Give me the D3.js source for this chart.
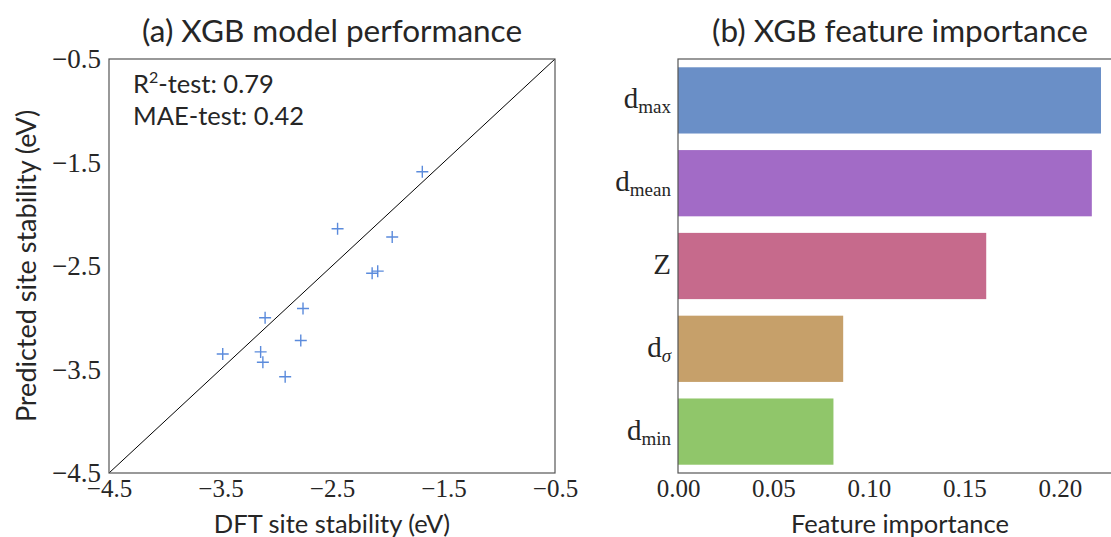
<!DOCTYPE html>
<html>
<head>
<meta charset="utf-8">
<script src="https://cdn.jsdelivr.net/npm/d3@7"></script>
<style>
  body { margin: 0; background: #fff; }
  svg text { fill: #262626; }
</style>
</head>
<body>
<svg id="chart" width="1111" height="537"></svg>
<script>
// left panel: DFT vs predicted site stability (test set)
var dftVals  = [-1.69, -2.45, -1.96, -2.14, -2.09, -2.76, -3.10, -2.78, -3.48, -3.14, -3.12, -2.92];
var predVals = [-1.59, -2.14, -2.22, -2.57, -2.55, -2.91, -3.00, -3.22, -3.35, -3.33, -3.43, -3.57];
var stabTicks = [-4.5, -3.5, -2.5, -1.5, -0.5];

// right panel: feature importance
var features    = ["max", "mean", "Z", "sigma", "min"];
var importances = [0.2215, 0.2167, 0.1614, 0.0865, 0.0814];
var impTicks    = [0.00, 0.05, 0.10, 0.15, 0.20];
var barColors   = ["#6a8fc7", "#a26bc6", "#c66a8c", "#c6a06a", "#90c66a"];

var sansFont  = "Lato, 'Open Sans', sans-serif";
var serifFont = "'Liberation Serif', 'DejaVu Serif', serif";

var svg = d3.select("#chart");

function fmtMinus(v, digits) {
    return d3.format("." + digits + "f")(v).replace("-", "\u2212");
}

// ---------- panel (a) ----------
var a = {left: 109, right: 555, top: 59, bottom: 473};

var x = d3.scaleLinear().domain([-4.5, -0.5]).range([a.left, a.right]);
var y = d3.scaleLinear().domain([-4.5, -0.5]).range([a.bottom, a.top]);

var ga = svg.append("g");

ga.append("g")
    .attr("transform", "translate(0," + a.bottom + ")")
    .call(d3.axisBottom(x).tickValues(stabTicks).tickSize(0).tickPadding(6)
        .tickFormat(function(d) { return fmtMinus(d, 1); }))
    .call(function(g) { g.select(".domain").remove(); })
    .selectAll("text")
        .attr("font-family", serifFont).attr("font-size", 25).attr("fill", "#333");

ga.append("g")
    .attr("transform", "translate(" + a.left + ",0)")
    .call(d3.axisLeft(y).tickValues(stabTicks).tickSize(0).tickPadding(8)
        .tickFormat(function(d) { return fmtMinus(d, 1); }))
    .call(function(g) { g.select(".domain").remove(); })
    .selectAll("text")
        .attr("font-family", serifFont).attr("font-size", 27).attr("fill", "#333");

// diagonal y = x
ga.append("line")
    .attr("x1", x(-4.5)).attr("y1", y(-4.5))
    .attr("x2", x(-0.5)).attr("y2", y(-0.5))
    .attr("stroke", "#000").attr("stroke-width", 1);

var pts = dftVals.map(function(d, i) { return {x: d, y: predVals[i]}; });
ga.selectAll(".pt")
    .data(pts)
    .enter().append("path")
        .attr("class", "pt")
        .attr("d", "M-6,0H6M0,-6V6")
        .attr("transform", function(d) { return "translate(" + x(d.x) + "," + y(d.y) + ")"; })
        .attr("stroke", "#5b8bdc").attr("stroke-width", 1.4).attr("fill", "none");

ga.append("rect")
    .attr("x", a.left).attr("y", a.top)
    .attr("width", a.right - a.left).attr("height", a.bottom - a.top)
    .attr("fill", "none").attr("stroke", "#555").attr("stroke-width", 1.2);

ga.append("text")
    .attr("x", 133).attr("y", 93)
    .attr("font-family", sansFont).attr("font-size", 25.5)
    .html("R<tspan dy='-10' font-size='16'>2</tspan><tspan dy='10'>-test: 0.79</tspan>");
ga.append("text")
    .attr("x", 133).attr("y", 125)
    .attr("font-family", sansFont).attr("font-size", 25.5)
    .text("MAE-test: 0.42");

ga.append("text")
    .attr("x", (a.left + a.right) / 2).attr("y", 42)
    .attr("text-anchor", "middle")
    .attr("font-family", sansFont).attr("font-size", 31.5)
    .text("(a) XGB model performance");

ga.append("text")
    .attr("x", (a.left + a.right) / 2).attr("y", 533)
    .attr("text-anchor", "middle")
    .attr("font-family", sansFont).attr("font-size", 25.5)
    .text("DFT site stability (eV)");

ga.append("text")
    .attr("transform", "translate(36," + (a.top + a.bottom) / 2 + ") rotate(-90)")
    .attr("text-anchor", "middle")
    .attr("font-family", sansFont).attr("font-size", 27)
    .text("Predicted site stability (eV)");

// ---------- panel (b) ----------
var b = {left: 678, right: 1122, top: 59, bottom: 473};

var xb = d3.scaleLinear().domain([0, 0.2325]).range([b.left, b.right]);
var yb = d3.scaleBand().domain(features).range([b.top, b.bottom])
    .paddingInner(0.2).paddingOuter(0.1);

var gb = svg.append("g");

gb.selectAll(".bar")
    .data(features)
    .enter().append("rect")
        .attr("class", "bar")
        .attr("x", xb(0))
        .attr("y", function(d) { return yb(d); })
        .attr("width", function(d, i) { return xb(importances[i]) - xb(0); })
        .attr("height", yb.bandwidth())
        .attr("fill", function(d, i) { return barColors[i]; });

gb.append("g")
    .attr("transform", "translate(0," + b.bottom + ")")
    .call(d3.axisBottom(xb).tickValues(impTicks).tickSize(0).tickPadding(6)
        .tickFormat(d3.format(".2f")))
    .call(function(g) { g.select(".domain").remove(); })
    .selectAll("text")
        .attr("font-family", serifFont).attr("font-size", 25).attr("fill", "#333");

// feature labels: d with subscript, Z plain
var subs = {max: "max", mean: "mean", sigma: "\u03c3", min: "min"};
var yLab = gb.selectAll(".flab")
    .data(features)
    .enter().append("text")
        .attr("class", "flab")
        .attr("x", b.left - 7)
        .attr("y", function(d) { return yb(d) + yb.bandwidth() / 2 + 8; })
        .attr("text-anchor", "end")
        .attr("font-family", serifFont).attr("font-size", 29).attr("fill", "#333");
yLab.each(function(d) {
    var t = d3.select(this);
    if (d === "Z") { t.text("Z"); return; }
    t.append("tspan").text("d");
    t.append("tspan").attr("dy", 5).attr("font-size", 19)
        .attr("font-style", d === "sigma" ? "italic" : null)
        .text(subs[d]);
});

gb.append("rect")
    .attr("x", b.left).attr("y", b.top)
    .attr("width", b.right - b.left).attr("height", b.bottom - b.top)
    .attr("fill", "none").attr("stroke", "#555").attr("stroke-width", 1.2);

gb.append("text")
    .attr("x", (b.left + b.right) / 2).attr("y", 42)
    .attr("text-anchor", "middle")
    .attr("font-family", sansFont).attr("font-size", 31.5)
    .text("(b) XGB feature importance");

gb.append("text")
    .attr("x", (b.left + b.right) / 2).attr("y", 533)
    .attr("text-anchor", "middle")
    .attr("font-family", sansFont).attr("font-size", 25.5)
    .text("Feature importance");
</script>
</body>
</html>
